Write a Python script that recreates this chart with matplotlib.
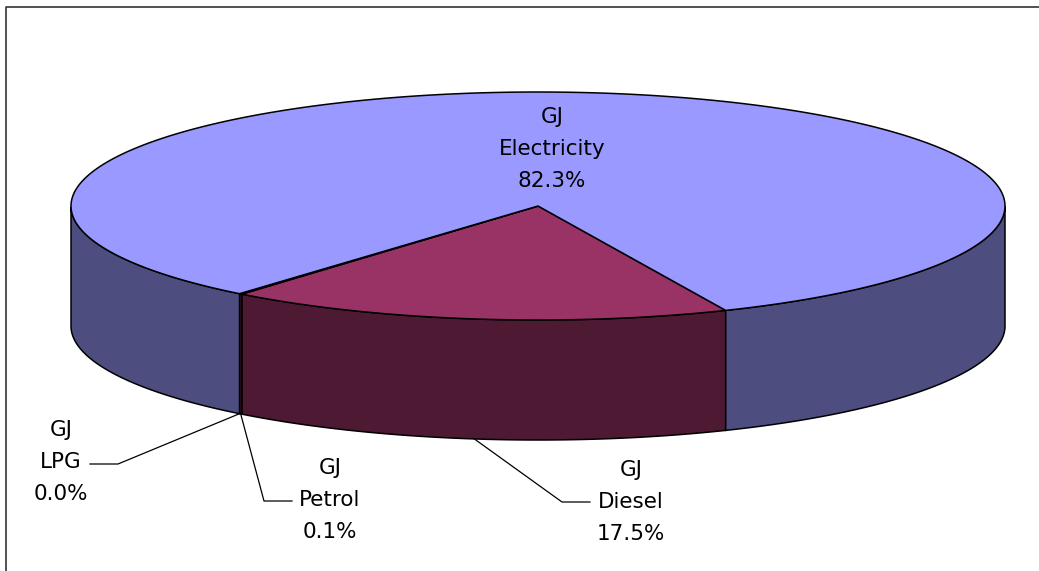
import numpy as np
import matplotlib
matplotlib.use("Agg")
import matplotlib.pyplot as plt

fuels = ["Diesel", "Petrol", "LPG", "Electricity"]
shares = [17.5, 0.1, 0.0, 82.3]
top_colors = ["#993366", "#993366", "#9999FF", "#9999FF"]
side_colors = ["#4D1933", "#4D1933", "#4D4D80", "#4D4D80"]

# pie geometry, in pixels
cx, cy = 538, 206
rx, ry = 467, 114
depth = 120
start_angle = 66.3


def rim(t):
    t = np.radians(t)
    return cx + rx * np.cos(t), cy + ry * np.sin(t)


fig = plt.figure(figsize=(10.39, 5.71), dpi=100)
ax = fig.add_axes([0, 0, 1, 1])
ax.set_xlim(0, 1039)
ax.set_ylim(571, 0)
ax.axis("off")

# chart frame, only left and top are in view
ax.plot([6, 6, 1039], [571, 7, 7], color="#333333", lw=1.2, zorder=1)

angles = start_angle + np.cumsum([0] + shares) / sum(shares) * 360
mids = {}
for i, fuel in enumerate(fuels):
    a0, a1 = angles[i], angles[i + 1]
    mids[fuel] = (a0 + a1) / 2
    if a1 <= a0:
        continue
    t = np.linspace(a0, a1, 400)

    # outer wall: only the part on the front half of the ellipse
    for lo, hi in [(0, 180), (360, 540)]:
        tt = t[(t >= lo) & (t <= hi)]
        if len(tt) < 2:
            continue
        x, y = rim(tt)
        ax.fill(np.r_[x, x[::-1]], np.r_[y, y[::-1] + depth],
                fc=side_colors[i], ec="black", lw=1.1, zorder=2)

for i, fuel in enumerate(fuels):
    a0, a1 = angles[i], angles[i + 1]
    if a1 <= a0:
        continue
    x, y = rim(np.linspace(a0, a1, 400))
    ax.fill(np.r_[cx, x], np.r_[cy, y], fc=top_colors[i], ec="black",
            lw=1.1, joinstyle="round", zorder=3)

# label text: centre x and y of the middle line
labels = {
    "Electricity": (552, 149),
    "LPG": (61, 462),
    "Petrol": (330, 500),
    "Diesel": (631, 502),
}
for fuel, share in zip(fuels, shares):
    lx, ly = labels[fuel]
    for dy, line in zip((-32, 0, 32), ("GJ", fuel, f"{share:.1f}%")):
        ax.text(lx, ly + dy, line, ha="center", va="center", fontsize=15.5,
                family="DejaVu Sans", color="black", zorder=5)

# leader lines from the lower rim to the labels
elbows = {
    "LPG": [(118, 464), (90, 464)],
    "Petrol": [(264, 501), (292, 501)],
    "Diesel": [(562, 502), (590, 502)],
}
for fuel, pts in elbows.items():
    x0, y0 = rim(mids[fuel])
    xs = [x0] + [p[0] for p in pts]
    ys = [y0 + depth] + [p[1] for p in pts]
    ax.plot(xs, ys, color="black", lw=0.9, zorder=4)

fig.savefig("out.png", dpi=100)
